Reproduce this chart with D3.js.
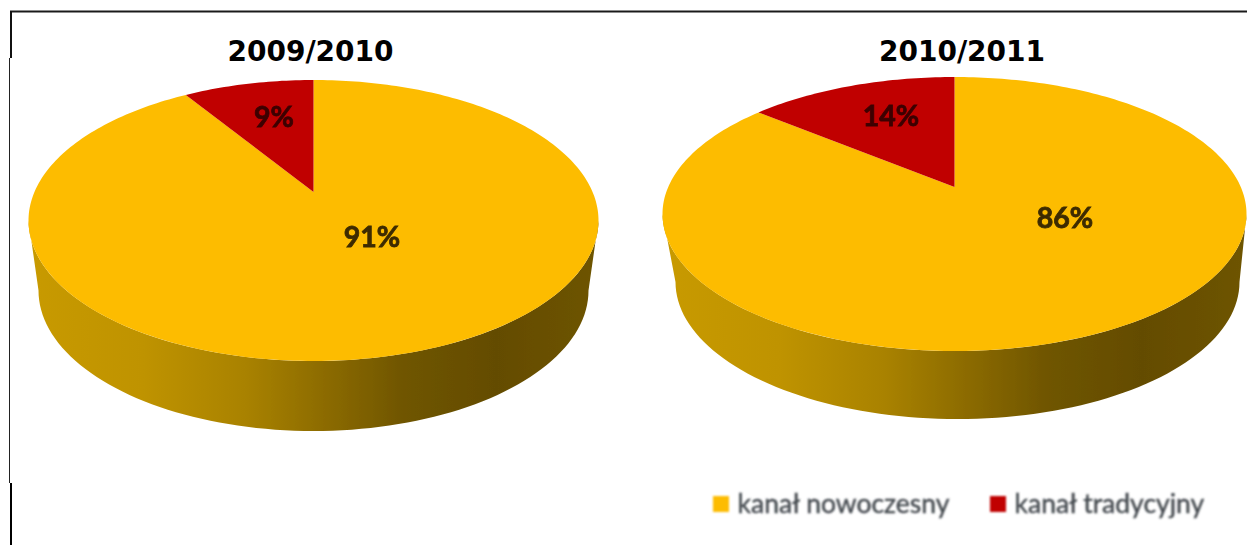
<!DOCTYPE html>
<html>
<head>
<meta charset="utf-8">
<script src="https://cdn.jsdelivr.net/npm/d3@7"></script>
<style>
html,body{margin:0;padding:0;background:#fff;overflow:hidden}
svg{display:block}
</style>
</head>
<body>
<div id="chart"></div>
<script>
// Channel shares per school year
const seasons = ["2009/2010", "2010/2011"];
const channels = ["kanał tradycyjny", "kanał nowoczesny"];
const traditionalShare = [9, 14];
const modernShare = [91, 86];

const channelColors = ["#c00000", "#fdbc00"];

// Layout of each tilted disc: apex of the slices, top/bottom/side extents of the lid, wall height
const discLayout = [
  {cx: 313.5, apexY: 192, top: 80, bottom: 361, halfWidth: 285, depth: 70, baseHalfWidth: 275, baseShift: 0,
   titleX: 310.5, labels: [[372, 236], [274, 116]]},
  {cx: 954.5, apexY: 187, top: 77, bottom: 351, halfWidth: 292, depth: 68, baseHalfWidth: 282, baseShift: 3,
   titleX: 962, labels: [[1065, 217], [891, 115]]}
];

const width = 1247, height = 545;
const svg = d3.select("#chart").append("svg").attr("width", width).attr("height", height);
const defs = svg.append("defs");

defs.append("filter").attr("id", "soft").attr("x", "-5%").attr("y", "-5%").attr("width", "110%").attr("height", "110%")
  .append("feGaussianBlur").attr("stdDeviation", 0.6);
defs.append("filter").attr("id", "softer").attr("x", "-5%").attr("y", "-30%").attr("width", "110%").attr("height", "160%")
  .append("feGaussianBlur").attr("stdDeviation", 0.8);

// Shading across the wall of a disc, as offsets of its width
const wallStops = [
  [0, "#c89a00"], [0.2, "#bf9300"], [0.38, "#a98200"], [0.52, "#8c6b00"],
  [0.66, "#6f5500"], [0.82, "#644c00"], [1, "#6e5400"]
];
discLayout.forEach((d, i) => {
  const grad = defs.append("linearGradient").attr("id", "wall" + i)
    .attr("gradientUnits", "userSpaceOnUse")
    .attr("x1", d.cx - d.halfWidth).attr("x2", d.cx + d.halfWidth).attr("y1", 0).attr("y2", 0);
  wallStops.forEach(s => grad.append("stop").attr("offset", s[0]).attr("stop-color", s[1]));
});

// Frame: top rule and left rule, heavier near both ends of the left side
const frame = svg.append("g").attr("fill", "none");
frame.append("path").attr("d", "M10,11.5H1247").attr("stroke", "#1a1a1a").attr("stroke-width", 2.2);
frame.append("path").attr("d", "M11,11V58").attr("stroke", "#111").attr("stroke-width", 2);
frame.append("path").attr("d", "M9.5,58V483").attr("stroke", "#222").attr("stroke-width", 1);
frame.append("path").attr("d", "M11,483V545").attr("stroke", "#000").attr("stroke-width", 2);

const line = d3.line().curve(d3.curveLinear);

discLayout.forEach((d, i) => {
  // A circle in perspective: far half shrinks, near half grows, and it still traces an ellipse
  const far = d.apexY - d.top, near = d.bottom - d.apexY;
  const k = (near - far) / (near + far);
  const vScale = far * (1 + k);
  const uScale = d.halfWidth * Math.sqrt(1 - k * k);
  const project = a => {
    const u = Math.sin(a), v = Math.cos(a), w = 1 + k * v;
    return [d.cx + uScale * u / w, d.apexY - vScale * v / w];
  };

  const g = svg.append("g").attr("filter", "url(#soft)");

  // Wall: near half of the lid's outline joined to the near half of the base outline
  const midY = (d.top + d.bottom) / 2, ry = (d.bottom - d.top) / 2;
  const steps = d3.range(0, 181, 2).map(t => t * Math.PI / 180);
  const lidEdge = steps.map(t => [d.cx + d.halfWidth * Math.cos(t), midY + ry * Math.sin(t)]);
  const baseEdge = steps.map(t => [d.cx + d.baseShift + d.baseHalfWidth * Math.cos(t), midY + d.depth + ry * Math.sin(t)]).reverse();
  g.append("path").attr("d", line(lidEdge.concat(baseEdge)) + "Z").attr("fill", `url(#wall${i})`);

  // Lid: the modern wedge starts at twelve o'clock and runs clockwise, the traditional one closes the circle
  const values = [modernShare[i], traditionalShare[i]];
  const arcs = d3.pie().sort(null).value(v => v)(values);
  arcs.forEach((a, j) => {
    const n = Math.ceil((a.endAngle - a.startAngle) / 0.02);
    const rim = d3.range(n + 1).map(s => project(a.startAngle + (a.endAngle - a.startAngle) * s / n));
    g.append("path")
      .attr("d", line([[d.cx, d.apexY]].concat(rim)) + "Z")
      .attr("fill", channelColors[1 - j]);
  });

  // Value labels
  values.forEach((v, j) => {
    const ink = j === 1 ? "#3c0000" : "#3d2b00";
    svg.append("text")
      .attr("x", d.labels[j][0]).attr("y", d.labels[j][1])
      .attr("text-anchor", "middle").attr("dominant-baseline", "central")
      .attr("font-family", "Lato, 'Open Sans', sans-serif")
      .attr("font-weight", 700).attr("font-size", 28.5)
      .attr("fill", ink).attr("stroke", ink).attr("stroke-width", 0.8)
      .attr("filter", "url(#soft)")
      .text(v + "%");
  });

  // Season heading
  svg.append("text")
    .attr("x", d.titleX).attr("y", 61)
    .attr("text-anchor", "middle")
    .attr("font-family", "'DejaVu Sans', Verdana, sans-serif")
    .attr("font-weight", 700).attr("font-size", 28)
    .attr("fill", "#000")
    .text(seasons[i]);
});

// Legend, listing the modern channel first
const legend = svg.append("g").attr("filter", "url(#softer)");
const legendOrder = [1, 0];
const legendX = [713, 990];
legendOrder.forEach((c, i) => {
  legend.append("rect")
    .attr("x", legendX[i]).attr("y", 496).attr("width", 16).attr("height", 16)
    .attr("fill", channelColors[c]);
  legend.append("text")
    .attr("x", legendX[i] + 24.5).attr("y", 513)
    .attr("font-family", "Lato, 'Open Sans', sans-serif")
    .attr("font-size", 26.5).attr("fill", "#43484e")
    .attr("stroke", "#43484e").attr("stroke-width", 0.4)
    .text(channels[c]);
});
</script>
</body>
</html>
